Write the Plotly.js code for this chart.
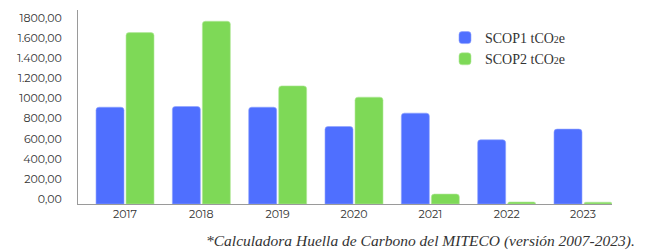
<!DOCTYPE html>
<html>
<head>
<meta charset="utf-8">
<script src="https://cdn.plot.ly/plotly-3.0.1.min.js"></script>
<style>html,body{margin:0;padding:0;background:#fff;}#chart{width:647px;height:250px;}</style>
</head>
<body>
<div id="chart"></div>
<script>
const years = ["2017", "2018", "2019", "2020", "2021", "2022", "2023"];
const scope1 = [963, 970, 963, 771, 904, 639, 745];
const scope2 = [1705, 1818, 1175, 1063, 99, 20, 18];
const tickVals = [0, 200, 400, 600, 800, 1000, 1200, 1400, 1600, 1800];
const tickText = ["0,00", "200,00", "400,00", "600,00", "800,00", "1000,00", "1.200,00", "1.400,00", "1.600,00", "1800,00"];
const seriesNames = ['SCOP1 tCO<span style="font-size:10px">2</span>e', 'SCOP2 tCO<span style="font-size:10px">2</span>e'];
const footnote = "*Calculadora Huella de Carbono del MITECO (versión 2007-2023).";

const traces = [
  {type: "bar", x: years, y: scope1, name: seriesNames[0],
   marker: {color: "#4F6FFF", line: {color: "#8FA3FF", width: 0.6}}},
  {type: "bar", x: years, y: scope2, name: seriesNames[1],
   marker: {color: "#7ED957", line: {color: "#B3EA9C", width: 0.6}}}
];

const plotW = 647 - 78 - 35, plotH = 250 - 10 - 46;
const layout = {
  width: 647, height: 250,
  margin: {l: 78, r: 35, t: 10, b: 46},
  paper_bgcolor: "#fff", plot_bgcolor: "#fff",
  barmode: "group", bargap: 0.214, bargroupgap: 0.067,
  barcornerradius: 3,
  showlegend: true,
  legend: {x: (445 - 78) / plotW, y: 1 - 12 / plotH, xanchor: "left", yanchor: "top",
           font: {family: "Liberation Serif, serif", size: 14, color: "#333"},
           bgcolor: "rgba(0,0,0,0)", itemwidth: 30},
  xaxis: {type: "category", range: [-0.616, 6.38], showline: true, linecolor: "#9a9a9a", linewidth: 1,
          showgrid: false, zeroline: false, ticks: "", fixedrange: true,
          tickfont: {family: "Montserrat, Roboto, sans-serif", size: 11, color: "#333"}},
  yaxis: {range: [0, 1930], tickvals: tickVals, ticktext: tickText, showline: true, linecolor: "#9a9a9a", linewidth: 1,
          showgrid: false, zeroline: false, ticks: "", ticklabelshift: -5, ticklabelstandoff: 13,
          tickfont: {family: "Montserrat, Roboto, sans-serif", size: 11, color: "#333"}},
  annotations: [{text: "<i>" + footnote + "</i>", xref: "paper", yref: "paper",
    x: (637 - 78) / plotW, y: -(241 - 204) / plotH, xanchor: "right", yanchor: "middle", showarrow: false,
    font: {family: "Liberation Serif, serif", size: 15.5, color: "#333"}}]
};

Plotly.newPlot("chart", traces, layout, {displayModeBar: false, staticPlot: true});
</script>
</body>
</html>
